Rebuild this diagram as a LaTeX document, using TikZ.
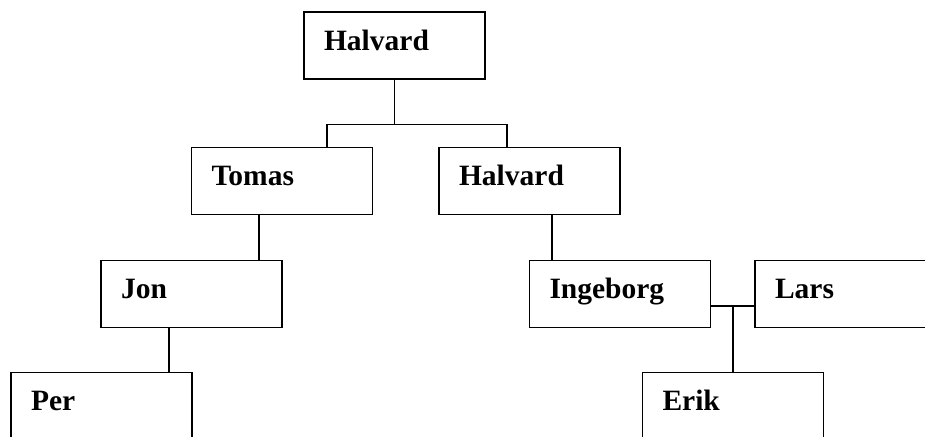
\documentclass[tikz,border=0pt]{standalone}
\usepackage{fontspec}
\setmainfont{Liberation Serif}
\begin{document}
\begin{tikzpicture}[x=1pt,y=-1pt,
  person/.style={draw=black, line width=1.9pt, fill=white, minimum width=181pt, minimum height=67pt,
    inner xsep=20pt, inner ysep=0pt, text width=141pt, align=left,
    text height=20pt, text depth=11pt,
    font=\fontsize{29.5}{34}\selectfont\bfseries},
  link/.style={draw=black, line width=1.9pt}]
\useasboundingbox (0,0) rectangle (925,436);
\clip (0,0) rectangle (925,436);
\node[person] (H1) at (394.5,45.5) {Halvard};
\node[person] (T)  at (282,181) {Tomas};
\node[person] (H2) at (529.5,181) {Halvard};
\node[person] (J)  at (191.5,294) {Jon};
\node[person] (I)  at (620,294) {Ingeborg};
\node[person] (L)  at (845.5,294) {Lars};
\node[person] (P)  at (101.5,406) {Per};
\node[person] (E)  at (733,406) {Erik};
% top fork
\coordinate (j1) at (394.5,124.5);
\path ([xshift=-67.5pt]j1) coordinate (jl) ([xshift=112.5pt]j1) coordinate (jr);
\draw[link] (H1.south) -- (j1);
\draw[link] (jl |- T.north) -- (jl) -- (jr) -- (jr |- H2.north);
% Tomas - Jon
\path ([xshift=-23pt]T.south) coordinate (a);
\draw[link] (a) -- (a |- J.north);
% Halvard - Ingeborg
\path ([xshift=22.5pt]H2.south) coordinate (b);
\draw[link] (b) -- (b |- I.north);
% Jon - Per
\path ([xshift=-22.5pt]J.south) coordinate (c);
\draw[link] (c) -- (c |- P.north);
% Ingeborg - Lars, Erik
\path ([yshift=-12pt]I.east) coordinate (d);
\draw[link] (d) -- (d -| L.west);
\draw[link] (d -| E.north) -- (E.north);
\end{tikzpicture}
\end{document}
